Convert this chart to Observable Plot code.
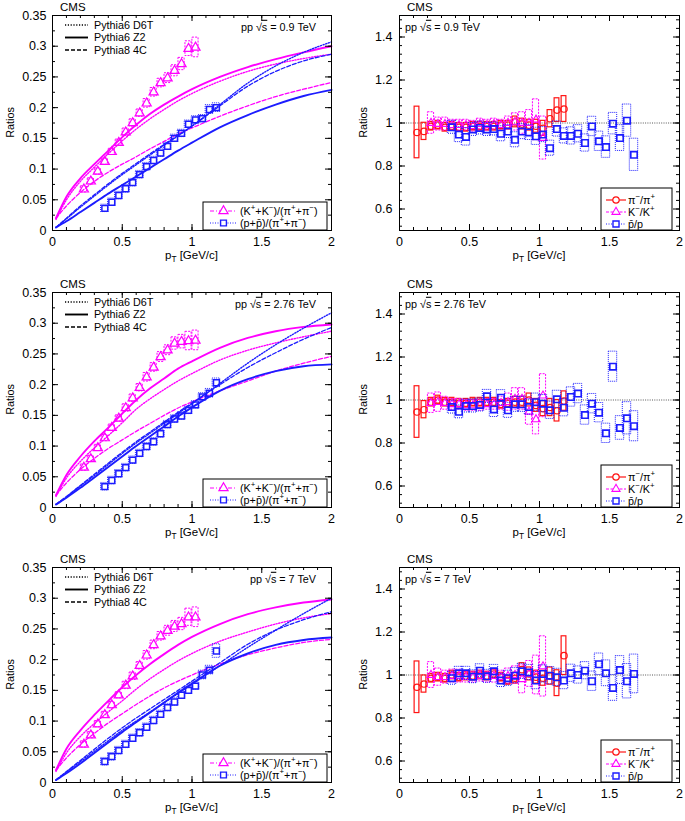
<!DOCTYPE html>
<html><head><meta charset="utf-8">
<script src="https://cdn.jsdelivr.net/npm/d3@7"></script>
<script src="https://cdn.jsdelivr.net/npm/@observablehq/plot@0.6"></script>
<style>
html,body{margin:0;padding:0;background:#fff}
body{width:685px;height:821px;overflow:hidden;position:relative}
.panel{position:absolute}
</style></head><body>
<script>
// ---------------- DATA ----------------
const xTickLabels = [0, 0.5, 1, 1.5, 2];
const yTickLabelsLeft = [0, 0.05, 0.1, 0.15, 0.2, 0.25, 0.3, 0.35];
const yTickLabelsRight = [0.6, 0.8, 1, 1.2, 1.4];
const energyLabels = ["0.9", "2.76", "7"];
const modelNames = ["Pythia6 D6T", "Pythia6 Z2", "Pythia8 4C"];

const ptK  = [0.225,0.275,0.325,0.375,0.425,0.475,0.525,0.575,0.625,0.675,0.725,0.775,0.825,0.875,0.925,0.975,1.025];
const ptP  = [0.375,0.425,0.475,0.525,0.575,0.625,0.675,0.725,0.775,0.825,0.875,0.925,0.975,1.025,1.075,1.125,1.175];
const ptPi = [0.125,0.175,0.225,0.275,0.325,0.375,0.425,0.475,0.525,0.575,0.625,0.675,0.725,0.775,0.825,0.875,0.925,0.975,1.025,1.075,1.125,1.175];
const ptPbar = [0.375,0.425,0.475,0.525,0.575,0.625,0.675,0.725,0.775,0.825,0.875,0.925,0.975,1.025,1.075,1.125,1.175,1.225,1.275,1.325,1.375,1.425,1.475,1.525,1.575,1.625,1.675];
const ptModel = [0.025,0.1,0.2,0.3,0.4,0.5,0.6,0.7,0.8,0.9,1.0,1.2,1.4,1.6,1.8,2.0];

// (K+ + K-)/(pi+ + pi-) data and systematic half-heights
const kpi_09  = [0.067,0.080,0.096,0.112,0.128,0.143,0.160,0.175,0.191,0.207,0.225,0.240,0.248,0.260,0.271,0.296,0.298];
const kpi_09_sys = [0.005,0.005,0.005,0.005,0.005,0.005,0.006,0.006,0.006,0.007,0.007,0.007,0.008,0.009,0.010,0.012,0.016];
const kpi_276 = [0.065,0.079,0.097,0.113,0.130,0.145,0.162,0.178,0.195,0.212,0.228,0.245,0.256,0.267,0.270,0.271,0.272];
const kpi_276_sys = [0.005,0.005,0.005,0.005,0.005,0.005,0.006,0.006,0.006,0.007,0.007,0.008,0.008,0.010,0.011,0.015,0.016];
const kpi_7   = [0.062,0.077,0.095,0.110,0.126,0.142,0.158,0.173,0.190,0.207,0.224,0.238,0.247,0.254,0.258,0.269,0.269];
const kpi_7_sys = [0.005,0.005,0.005,0.005,0.005,0.005,0.006,0.006,0.006,0.007,0.007,0.007,0.008,0.009,0.010,0.014,0.016];
// (p + pbar)/(pi+ + pi-)
const ppi_09  = [0.036,0.046,0.057,0.068,0.078,0.091,0.104,0.114,0.126,0.137,0.150,0.158,0.173,0.180,0.182,0.197,0.200];
const ppi_09_sys = [0.006,0.006,0.006,0.006,0.006,0.006,0.006,0.006,0.006,0.006,0.006,0.006,0.006,0.006,0.006,0.007,0.007];
const ppi_276 = [0.034,0.044,0.055,0.065,0.077,0.088,0.099,0.107,0.120,0.135,0.144,0.149,0.158,0.167,0.180,0.186,0.203];
const ppi_276_sys = [0.006,0.006,0.006,0.006,0.006,0.006,0.006,0.006,0.006,0.006,0.006,0.006,0.006,0.006,0.006,0.007,0.007];
const ppi_7   = [0.034,0.042,0.052,0.062,0.072,0.081,0.090,0.101,0.111,0.122,0.131,0.142,0.150,0.157,0.175,0.183,0.214];
const ppi_7_sys = [0.006,0.006,0.006,0.006,0.006,0.006,0.006,0.006,0.006,0.006,0.006,0.006,0.006,0.006,0.007,0.007,0.011];

// Model curves: K/pi
const kpi_D6T_09 = [0.018,0.050,0.080,0.103,0.125,0.146,0.165,0.182,0.197,0.211,0.223,0.243,0.259,0.271,0.280,0.287];
const kpi_Z2_09  = [0.020,0.055,0.085,0.108,0.130,0.152,0.172,0.190,0.205,0.218,0.230,0.250,0.266,0.279,0.290,0.300];
const kpi_4C_09  = [0.020,0.040,0.062,0.080,0.095,0.108,0.120,0.133,0.145,0.157,0.167,0.186,0.203,0.218,0.230,0.241];
const kpi_D6T_276 = [0.018,0.048,0.075,0.097,0.117,0.138,0.160,0.177,0.192,0.206,0.218,0.240,0.256,0.268,0.278,0.287];
const kpi_Z2_276  = [0.020,0.053,0.083,0.108,0.130,0.153,0.175,0.194,0.210,0.226,0.238,0.260,0.276,0.287,0.294,0.298];
const kpi_4C_276  = [0.020,0.040,0.062,0.080,0.096,0.110,0.124,0.137,0.150,0.162,0.172,0.190,0.206,0.222,0.235,0.246];
const kpi_D6T_7 = [0.018,0.048,0.075,0.096,0.115,0.133,0.152,0.169,0.184,0.198,0.210,0.230,0.245,0.258,0.268,0.275];
const kpi_Z2_7  = [0.020,0.055,0.085,0.110,0.133,0.155,0.175,0.193,0.209,0.224,0.237,0.258,0.274,0.285,0.293,0.298];
const kpi_4C_7  = [0.020,0.040,0.062,0.080,0.097,0.112,0.127,0.141,0.154,0.165,0.175,0.193,0.208,0.219,0.228,0.233];
// Model curves: p/pi
const ppi_D6T_09 = [0.005,0.019,0.038,0.056,0.074,0.091,0.107,0.123,0.139,0.154,0.170,0.205,0.240,0.268,0.290,0.307];
const ppi_Z2_09  = [0.005,0.015,0.030,0.045,0.060,0.074,0.088,0.102,0.116,0.130,0.143,0.168,0.188,0.205,0.219,0.229];
const ppi_4C_09  = [0.005,0.020,0.040,0.058,0.076,0.093,0.109,0.125,0.140,0.155,0.170,0.203,0.235,0.259,0.276,0.287];
const ppi_D6T_276 = [0.005,0.017,0.035,0.052,0.070,0.088,0.105,0.121,0.137,0.153,0.169,0.202,0.235,0.265,0.292,0.317];
const ppi_Z2_276  = [0.005,0.016,0.032,0.049,0.066,0.083,0.100,0.116,0.132,0.148,0.163,0.190,0.209,0.222,0.230,0.233];
const ppi_4C_276  = [0.005,0.018,0.036,0.054,0.072,0.090,0.107,0.123,0.139,0.155,0.170,0.200,0.228,0.252,0.274,0.293];
const ppi_D6T_7 = [0.004,0.017,0.034,0.051,0.068,0.085,0.100,0.115,0.130,0.145,0.160,0.190,0.220,0.248,0.275,0.300];
const ppi_Z2_7  = [0.004,0.015,0.031,0.048,0.065,0.082,0.098,0.114,0.130,0.146,0.161,0.190,0.210,0.224,0.232,0.236];
const ppi_4C_7  = [0.004,0.018,0.036,0.054,0.072,0.089,0.105,0.120,0.135,0.150,0.165,0.195,0.225,0.248,0.265,0.278];

// pi-/pi+
const pim_09 = [0.956,0.961,0.985,0.990,0.980,0.985,0.980,0.980,0.985,0.985,0.985,0.985,0.990,0.990,1.005,0.995,0.990,0.985,0.975,1.020,1.060,1.065];
const pim_09_sys = [0.12,0.04,0.02,0.02,0.02,0.02,0.02,0.02,0.02,0.02,0.02,0.02,0.02,0.02,0.025,0.025,0.025,0.03,0.035,0.04,0.055,0.06];
const pim_276 = [0.944,0.955,0.990,1.000,0.990,0.990,0.985,0.985,0.990,0.990,0.990,0.990,0.980,0.985,0.990,0.990,1.000,0.975,0.960,0.965,0.950,0.995];
const pim_276_sys = [0.12,0.04,0.02,0.02,0.02,0.02,0.02,0.02,0.02,0.02,0.02,0.02,0.02,0.02,0.025,0.025,0.03,0.03,0.035,0.04,0.05,0.045];
const pim_7 = [0.943,0.958,0.985,0.990,0.985,1.000,0.990,0.995,0.995,1.000,0.995,1.005,0.990,0.975,0.985,1.025,1.005,0.990,0.985,0.995,0.962,1.090];
const pim_7_sys = [0.12,0.04,0.02,0.02,0.02,0.02,0.02,0.02,0.02,0.02,0.02,0.02,0.02,0.02,0.025,0.03,0.03,0.03,0.035,0.04,0.06,0.09];
// K-/K+
const km_09 = [1.000,0.995,0.995,0.990,0.990,0.990,0.985,0.995,0.990,0.995,0.990,1.000,1.005,1.000,1.000,1.015,0.930];
const km_09_sys = [0.05,0.03,0.03,0.025,0.025,0.025,0.025,0.025,0.025,0.025,0.025,0.03,0.04,0.05,0.06,0.095,0.10];
const km_276 = [0.985,0.990,0.985,0.980,0.980,0.975,0.975,0.975,0.980,0.980,0.985,0.990,1.005,1.005,0.945,0.910,1.020];
const km_276_sys = [0.045,0.045,0.03,0.025,0.025,0.025,0.025,0.025,0.025,0.025,0.03,0.04,0.05,0.05,0.06,0.07,0.10];
const km_7 = [1.000,0.990,0.990,0.995,0.995,0.990,0.990,0.995,0.990,0.995,0.990,0.995,1.000,0.980,1.005,1.000,1.040];
const km_7_sys = [0.06,0.04,0.03,0.03,0.03,0.025,0.025,0.025,0.025,0.03,0.03,0.035,0.04,0.065,0.06,0.09,0.14];
// pbar/p
const pbar_09 = [0.980,0.946,0.935,0.970,0.977,0.970,0.972,0.950,0.960,0.922,0.960,0.956,0.938,0.946,0.883,0.972,0.940,0.940,0.950,0.907,0.984,0.915,0.888,0.997,0.930,1.011,0.852];
const pbar_09_sys = [0.03,0.035,0.04,0.03,0.03,0.03,0.03,0.035,0.03,0.035,0.035,0.035,0.04,0.035,0.035,0.035,0.035,0.04,0.04,0.04,0.045,0.045,0.05,0.05,0.06,0.075,0.075];
const pbar_276 = [0.967,0.945,0.972,0.972,0.977,1.017,0.956,1.011,0.952,0.980,0.980,0.967,0.990,0.983,0.952,1.003,0.964,1.014,1.030,0.930,0.983,0.941,0.845,1.155,0.870,0.915,0.878];
const pbar_276_sys = [0.03,0.03,0.03,0.03,0.03,0.03,0.035,0.035,0.035,0.035,0.035,0.035,0.04,0.04,0.04,0.04,0.04,0.045,0.045,0.045,0.045,0.045,0.045,0.07,0.055,0.075,0.07];
const pbar_7 = [0.985,1.008,1.008,0.992,1.020,0.994,1.017,0.974,0.985,0.997,1.017,1.012,0.974,1.005,0.997,0.989,0.974,1.008,1.000,1.020,0.971,1.050,1.008,0.940,1.023,0.971,1.005];
const pbar_7_sys = [0.03,0.03,0.03,0.03,0.03,0.03,0.03,0.03,0.035,0.035,0.035,0.035,0.04,0.04,0.04,0.04,0.04,0.04,0.04,0.04,0.045,0.05,0.06,0.06,0.065,0.08,0.09];

// ---------------- STYLE / LAYOUT ----------------
const FONT = "'Liberation Sans', Arial, Helvetica, sans-serif";
const MAG = "#ff00ff", BLUE = "#1c1cff", RED = "#ff1414";
const TICK_FS = 12.5;
const MODEL_STYLE = [
  {dash: "1.2,1.6", w: 1.4},
  {dash: null, w: 1.9},
  {dash: "4,2", w: 1.3}
];
const rowTops = [0, 277, 552];

const mk = (xs, ys, es) => xs.map((x, i) => ({x, y: ys[i], e: es[i]}));
const mkLine = (ys) => ptModel.map((x, i) => ({x, y: ys[i]}));

function tickMarks(xMaj, xMin, yMaj, yMin, fw, fh) {
  const L = 6, l = 3, s = {stroke: "black", strokeWidth: 1};
  return [
    Plot.tickX(xMaj, {x: d => d, insetTop: fh - L, ...s}),
    Plot.tickX(xMaj, {x: d => d, insetBottom: fh - L, ...s}),
    Plot.tickX(xMin, {x: d => d, insetTop: fh - l, ...s}),
    Plot.tickX(xMin, {x: d => d, insetBottom: fh - l, ...s}),
    Plot.tickY(yMaj, {y: d => d, insetRight: fw - L, ...s}),
    Plot.tickY(yMaj, {y: d => d, insetLeft: fw - L, ...s}),
    Plot.tickY(yMin, {y: d => d, insetRight: fw - l, ...s}),
    Plot.tickY(yMin, {y: d => d, insetLeft: fw - l, ...s})
  ];
}

function rich(g, x, y, parts, size, anchor = "start") {
  const t = g.append("text").attr("x", x).attr("y", y + 0.35 * size)
    .attr("font-size", size).attr("font-family", FONT).attr("fill", "black")
    .attr("text-anchor", anchor);
  let shift = 0;
  for (const p of parts) {
    const [s, kind] = Array.isArray(p) ? p : [p, ""];
    const target = kind === "^" ? -0.42 * size : kind === "_" ? 0.28 * size : 0;
    const ts = t.append("tspan").text(s).attr("dy", target - shift);
    if (kind === "^" || kind === "_") ts.attr("font-size", size * 0.72);
    if (kind === "o") ts.style("text-decoration", "overline");
    shift = target;
  }
  return t;
}

function symbolPath(type, r) {
  const sym = type === "triangle" ? d3.symbolTriangle : type === "square" ? d3.symbolSquare : d3.symbolCircle;
  return d3.symbol(sym, r * r * Math.PI)();
}

function legendItem(g, x1, x2, y, color, dash, w, type, r, sw) {
  g.append("line").attr("x1", x1).attr("x2", x2).attr("y1", y).attr("y2", y)
    .attr("stroke", color).attr("stroke-width", w).attr("stroke-dasharray", dash);
  if (type) g.append("path").attr("d", symbolPath(type, r))
    .attr("transform", `translate(${(x1 + x2) / 2},${y})`)
    .attr("fill", "white").attr("stroke", color).attr("stroke-width", sw);
}

function place(svg, left, top) {
  const div = document.createElement("div");
  div.className = "panel";
  div.style.left = left + "px";
  div.style.top = top + "px";
  div.appendChild(svg);
  document.body.appendChild(div);
}

function commonText(g, fl, fr, ft, fb) {
  rich(g, fl + 8, ft - 8, ["CMS"], 11.5, "start");
  rich(g, (fl + fr) / 2, fb + 24.5, ["p", ["T", "_"], " [GeV/c]"], 11.5, "middle");
}

function yLabel(g, x, y) {
  g.append("text").attr("transform", `translate(${x},${y}) rotate(-90)`)
    .attr("dy", "0.35em").attr("text-anchor", "middle").attr("font-size", 10.8)
    .attr("font-family", FONT).attr("fill", "black").text("Ratios");
}

// ---------------- LEFT PANELS ----------------
function leftPanel(row, E, kpi, kpiSys, ppi, ppiSys, kpiModels, ppiModels) {
  const W = 340, H = 276, mL = 52, mR = 9, mT = 15, mB = 46;
  const fw = W - mL - mR, fh = H - mT - mB;
  const kRows = mk(ptK, kpi, kpiSys), pRows = mk(ptP, ppi, ppiSys);
  const curves = [];
  [[kpiModels, MAG], [ppiModels, BLUE]].forEach(([set, col]) => set.forEach((ys, j) => {
    curves.push(Plot.line(mkLine(ys), {x: "x", y: "y", stroke: col,
      strokeWidth: MODEL_STYLE[j].w, strokeDasharray: MODEL_STYLE[j].dash, curve: "monotone-x"}));
  }));
  const hwK = 0.022, hwP = 0.027;
  const svg = Plot.plot({
    width: W, height: H, marginLeft: mL, marginRight: mR, marginTop: mT, marginBottom: mB,
    style: {fontFamily: FONT, fontSize: TICK_FS + "px", color: "black", background: "transparent", overflow: "visible"},
    x: {domain: [0, 2]},
    y: {domain: [0, 0.35]},
    marks: [
      ...curves,
      Plot.rect(kRows, {x1: r => r.x - hwK, x2: r => r.x + hwK, y1: r => r.y - r.e, y2: r => r.y + r.e,
        stroke: MAG, fill: "none", strokeWidth: 1, strokeDasharray: "2,1.2"}),
      Plot.dot(kRows, {x: "x", y: "y", symbol: "triangle", r: 3.4, stroke: MAG, strokeWidth: 1.2, fill: "none"}),
      Plot.rect(pRows, {x1: r => r.x - hwP, x2: r => r.x + hwP, y1: r => r.y - r.e, y2: r => r.y + r.e,
        stroke: BLUE, fill: "none", strokeWidth: 1, strokeDasharray: "1,1"}),
      Plot.dot(pRows, {x: "x", y: "y", symbol: "square", r: 3.3, stroke: BLUE, strokeWidth: 1.5, fill: "none"}),
      ...tickMarks(xTickLabels, d3.range(0, 2.001, 0.1), yTickLabelsLeft, d3.range(0, 0.3501, 0.025), fw, fh),
      Plot.frame({stroke: "black", strokeWidth: 1}),
      Plot.axisX({ticks: xTickLabels, tickSize: 0, tickPadding: 7, tickFormat: d => String(d), label: null, fontSize: TICK_FS}),
      Plot.axisY({ticks: yTickLabelsLeft, tickSize: 0, tickPadding: 6, tickFormat: d => String(d), label: null, fontSize: TICK_FS})
    ]
  });
  const fl = mL, fr = W - mR, ft = mT, fb = H - mB;
  const g = d3.select(svg).append("g");
  commonText(g, fl, fr, ft, fb);
  yLabel(g, 10, (ft + fb) / 2);
  rich(g, fr - 15, ft + 12, ["pp √", ["s", "o"], " = " + E + " TeV"], 10.8, "end");
  // model legend
  modelNames.forEach((name, i) => {
    const y = ft + 10 + i * 12.5;
    g.append("line").attr("x1", fl + 13).attr("x2", fl + 36).attr("y1", y).attr("y2", y)
      .attr("stroke", "black").attr("stroke-width", MODEL_STYLE[i].w).attr("stroke-dasharray", MODEL_STYLE[i].dash);
    rich(g, fl + 42, y, [name], 10.8, "start");
  });
  // data legend
  g.append("rect").attr("x", fr - 128).attr("y", fb - 28).attr("width", 124).attr("height", 28)
    .attr("fill", "white").attr("stroke", "black").attr("stroke-width", 1);
  legendItem(g, fr - 121, fr - 94, fb - 19, MAG, "4,2,1,2", 1, "triangle", 3.4, 1.2);
  legendItem(g, fr - 121, fr - 94, fb - 7, BLUE, "1,1.5", 1, "square", 3.3, 1.4);
  rich(g, fr - 91, fb - 19, ["(K", ["+", "^"], "+K", ["−", "^"], ")/(π", ["+", "^"], "+π", ["−", "^"], ")"], 10.8);
  rich(g, fr - 91, fb - 7, ["(p+p̄)/(π", ["+", "^"], "+π", ["−", "^"], ")"], 10.8);
  place(svg, 0, rowTops[row]);
}

// ---------------- RIGHT PANELS ----------------
function rightPanel(row, E, pim, pimSys, km, kmSys, pbar, pbarSys) {
  const W = 345, H = 276, mL = 59, mR = 6, mT = 15, mB = 46;
  const fw = W - mL - mR, fh = H - mT - mB;
  const piRows = mk(ptPi, pim, pimSys), kRows = mk(ptK, km, kmSys), pRows = mk(ptPbar, pbar, pbarSys);
  const box = (rows, hw, col, dash, sw) => Plot.rect(rows, {x1: r => r.x - hw, x2: r => r.x + hw,
    y1: r => r.y - r.e, y2: r => r.y + r.e, stroke: col, fill: "none", strokeWidth: sw, strokeDasharray: dash});
  const svg = Plot.plot({
    width: W, height: H, marginLeft: mL, marginRight: mR, marginTop: mT, marginBottom: mB,
    style: {fontFamily: FONT, fontSize: TICK_FS + "px", color: "black", background: "transparent", overflow: "visible"},
    x: {domain: [0, 2]},
    y: {domain: [0.5, 1.5]},
    marks: [
      Plot.ruleY([1], {stroke: "#444", strokeWidth: 0.9, strokeDasharray: "1,1.3"}),
      box(piRows, 0.017, RED, null, 1.2),
      Plot.dot(piRows, {x: "x", y: "y", symbol: "circle", r: 3.2, stroke: RED, strokeWidth: 1.2, fill: "none"}),
      box(kRows, 0.022, MAG, "2,1.2", 1),
      Plot.dot(kRows, {x: "x", y: "y", symbol: "triangle", r: 3.0, stroke: MAG, strokeWidth: 1.1, fill: "none"}),
      box(pRows, 0.03, BLUE, "1,1", 1),
      Plot.dot(pRows, {x: "x", y: "y", symbol: "square", r: 3.6, stroke: BLUE, strokeWidth: 1.6, fill: "none"}),
      ...tickMarks(xTickLabels, d3.range(0, 2.001, 0.1), yTickLabelsRight, d3.range(13, 38).map(i => i * 0.04), fw, fh),
      Plot.frame({stroke: "black", strokeWidth: 1}),
      Plot.axisX({ticks: xTickLabels, tickSize: 0, tickPadding: 7, tickFormat: d => String(d), label: null, fontSize: TICK_FS}),
      Plot.axisY({ticks: yTickLabelsRight, tickSize: 0, tickPadding: 7, tickFormat: d => String(d), label: null, fontSize: TICK_FS})
    ]
  });
  const fl = mL, fr = W - mR, ft = mT, fb = H - mB;
  const g = d3.select(svg).append("g");
  commonText(g, fl, fr, ft, fb);
  yLabel(g, fl - 36, (ft + fb) / 2);
  rich(g, fl + 6, ft + 12, ["pp √", ["s", "o"], " = " + E + " TeV"], 10.8, "start");
  g.append("rect").attr("x", fr - 78).attr("y", fb - 42).attr("width", 71).attr("height", 42)
    .attr("fill", "white").attr("stroke", "black").attr("stroke-width", 1);
  legendItem(g, fr - 73, fr - 53, fb - 30, RED, null, 1.2, "circle", 3.2, 1.2);
  legendItem(g, fr - 73, fr - 53, fb - 18, MAG, "3,1.5", 1, "triangle", 3.0, 1.1);
  legendItem(g, fr - 73, fr - 53, fb - 6, BLUE, "1,1.5", 1, "square", 3.4, 1.4);
  rich(g, fr - 51, fb - 30, ["π", ["−", "^"], "/π", ["+", "^"]], 10.8);
  rich(g, fr - 51, fb - 18, ["K", ["−", "^"], "/K", ["+", "^"]], 10.8);
  rich(g, fr - 51, fb - 6, ["p̄/p"], 10.8);
  place(svg, 340, rowTops[row]);
}

leftPanel(0, energyLabels[0], kpi_09, kpi_09_sys, ppi_09, ppi_09_sys,
  [kpi_D6T_09, kpi_Z2_09, kpi_4C_09], [ppi_D6T_09, ppi_Z2_09, ppi_4C_09]);
leftPanel(1, energyLabels[1], kpi_276, kpi_276_sys, ppi_276, ppi_276_sys,
  [kpi_D6T_276, kpi_Z2_276, kpi_4C_276], [ppi_D6T_276, ppi_Z2_276, ppi_4C_276]);
leftPanel(2, energyLabels[2], kpi_7, kpi_7_sys, ppi_7, ppi_7_sys,
  [kpi_D6T_7, kpi_Z2_7, kpi_4C_7], [ppi_D6T_7, ppi_Z2_7, ppi_4C_7]);
rightPanel(0, energyLabels[0], pim_09, pim_09_sys, km_09, km_09_sys, pbar_09, pbar_09_sys);
rightPanel(1, energyLabels[1], pim_276, pim_276_sys, km_276, km_276_sys, pbar_276, pbar_276_sys);
rightPanel(2, energyLabels[2], pim_7, pim_7_sys, km_7, km_7_sys, pbar_7, pbar_7_sys);
</script>
</body></html>
